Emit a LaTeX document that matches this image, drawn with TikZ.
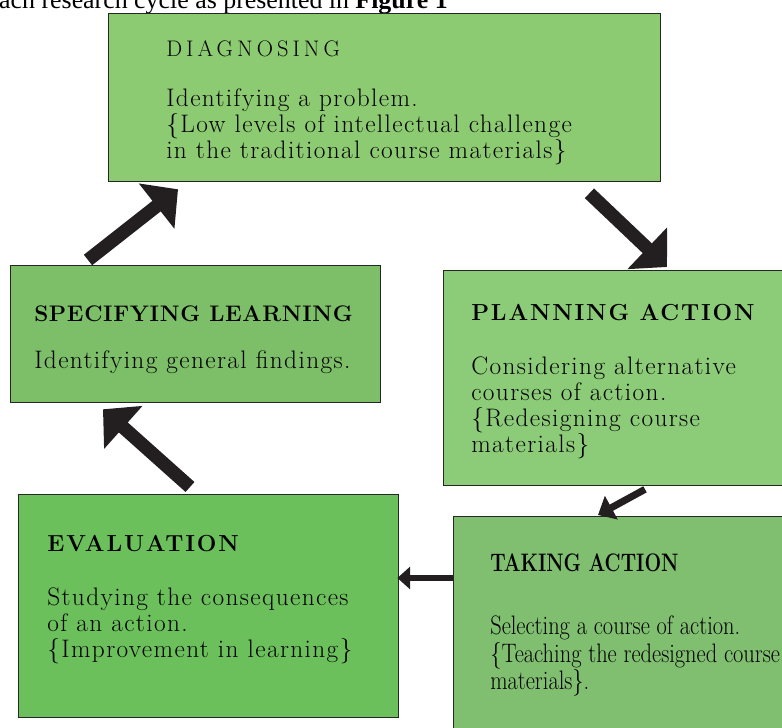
\documentclass[tikz,border=0pt]{standalone}
\usepackage{fontspec}
\usetikzlibrary{arrows.meta,calc}
\newfontfamily\timesfont{Liberation Serif}
\newfontfamily\bodyfont{Latin Modern Roman}[LetterSpace=5.5]
\newfontfamily\headfont{Latin Modern Roman}[LetterSpace=8]
\newfontfamily\spechead{Latin Modern Roman}[LetterSpace=3]
\newfontfamily\diaghead{Latin Modern Roman}[LetterSpace=18]
\definecolor{diagfill}{HTML}{8DCB72}
\definecolor{specfill}{HTML}{7DBE68}
\definecolor{planfill}{HTML}{8CCB78}
\definecolor{evalfill}{HTML}{6CC05C}
\definecolor{takefill}{HTML}{80BF70}
\definecolor{arrowdark}{HTML}{231F20}
\newcommand{\squeezed}[1]{\scalebox{0.84}[1]{#1}}
\begin{document}
\begin{tikzpicture}
  [x=0.025cm,y=0.025cm,
   inner sep=0pt,
   box/.style={rectangle,draw=black!85,line width=0.9pt,anchor=north west},
   body/.style={anchor=north west,align=left,font=\bodyfont\fontsize{18}{18.5}\selectfont},
   bigarrow/.style={draw=arrowdark,line width=9.5pt,-{Triangle[length=0.68cm,width=1.4cm]}},
   smallarrow/.style={draw=arrowdark,line width=5pt,-{Triangle[length=0.38cm,width=0.65cm]}}]
  \useasboundingbox (0,0) rectangle (782,728);
  \node at (448,719.7) (caption) [anchor=base east,font=\timesfont\fontsize{18.4}{20}\selectfont] {each research cycle as presented in \textbf{Figure 1}};
  % the five boxes of the cycle
  \node at (108,715) (diag) [box,fill=diagfill,minimum width=13.8cm,minimum height=4.2cm] {};
  \node at (443,458) (plan) [box,fill=planfill,minimum width=9cm,minimum height=5.375cm] {};
  \node at (453,212) (take) [box,fill=takefill,minimum width=9cm,minimum height=6cm] {};
  \node at (18,234) (evalbox) [box,fill=evalfill,minimum width=9.5cm,minimum height=5.575cm] {};
  \node at (10,463) (spec) [box,fill=specfill,minimum width=9.25cm,minimum height=3.425cm] {};
  % texts
  \node at ($(diag.north west)+(58,-27)$) (diagtext) [body]
    {{\diaghead\fontsize{16}{18}\selectfont DIAGNOSING}\\[17pt]
     Identifying a problem.\\
     \{Low levels of intellectual challenge\\
     in the traditional course materials\}};
  \node at ($(plan.north west)+(28,-34)$) (plantext) [body]
    {{\headfont\fontsize{16.5}{18}\selectfont\bfseries PLANNING ACTION}\\[20pt]
     Considering alternative\\
     courses of action.\\
     \{Redesigning course\\
     materials\}};
  \node at ($(take.north west)+(37,-38)$) (taketext) [anchor=north west,align=left,font=\fontsize{19}{19.6}\selectfont]
    {\scalebox{0.78}[1]{\fontsize{18}{18}\selectfont\bfseries TAKING ACTION}\\[25pt]
     \squeezed{Selecting a course of action.}\\
     \squeezed{\{Teaching the redesigned course}\\
     \squeezed{materials\}.}};
  \node at ($(evalbox.north west)+(29,-41)$) (evaltext) [body]
    {{\headfont\fontsize{16.5}{18}\selectfont\bfseries EVALUATION}\\[20pt]
     Studying the consequences\\
     of an action.\\
     \{Improvement in learning\}};
  \node at ($(spec.north west)+(24,-40)$) (spectext) [body]
    {{\spechead\fontsize{16}{18}\selectfont\bfseries SPECIFYING LEARNING}\\[15pt]
     Identifying general findings.};
  % arrows round the cycle
  \draw [bigarrow] ($(diag.south east)+(-72,-11)$) to ($(plan.north west)+(224,3)$);
  \draw [smallarrow] ($(plan.south west)+(202,-3)$) to ($(take.north west)+(145,1)$);
  \draw [smallarrow,line width=4.3pt,-{Triangle[length=0.32cm,width=0.55cm]}] ($(take.north west)+(0,-62)$) to ($(evalbox.north east)+(-2,-84)$);
  \draw [bigarrow] ($(evalbox.north west)+(172,7)$) to ($(spec.south west)+(93,-6)$);
  \draw [bigarrow] ($(spec.north west)+(78,5)$) to ($(diag.south west)+(70,-7)$);
\end{tikzpicture}
\end{document}
